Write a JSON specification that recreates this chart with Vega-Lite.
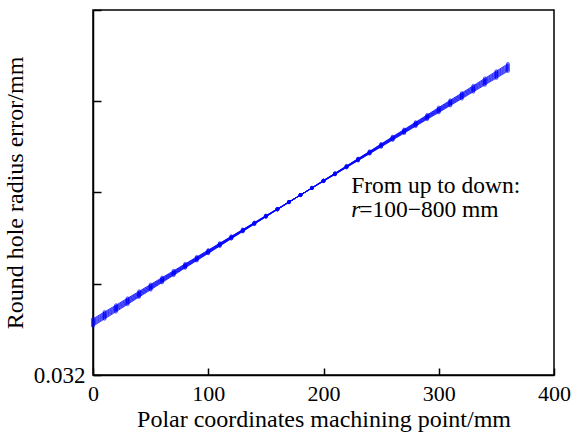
{
  "$schema": "https://vega.github.io/schema/vega-lite/v6.json",
  "width": 461,
  "height": 365,
  "autosize": {"type": "none"},
  "padding": {"left": 93, "top": 10, "right": 17, "bottom": 59},
  "background": "white",
  "config": {
    "view": {"stroke": "black", "strokeWidth": 1.5},
    "font": "'Liberation Serif', 'Times New Roman', serif",
    "axis": {
      "domainColor": "black", "domainWidth": 1.5,
      "tickColor": "black", "tickWidth": 1.5,
      "grid": false,
      "labelFont": "'Liberation Serif', 'Times New Roman', serif", "titleFont": "'Liberation Serif', 'Times New Roman', serif",
      "labelColor": "black", "titleColor": "black",
      "titleFontWeight": "normal",
      "labelFontSize": 22, "titleFontSize": 24,
      "labelFlush": false
    }
  },
  "datasets": {
    "lines": [
      {"x": 0, "r100": 0.032535, "r200": 0.032546, "r300": 0.032558, "r400": 0.032569, "r500": 0.032581, "r600": 0.032592, "r700": 0.032604, "r800": 0.032615},
      {"x": 10, "r100": 0.032615, "r200": 0.032626, "r300": 0.032637, "r400": 0.032648, "r500": 0.032658, "r600": 0.032669, "r700": 0.032680, "r800": 0.032691},
      {"x": 20, "r100": 0.032694, "r200": 0.032705, "r300": 0.032715, "r400": 0.032725, "r500": 0.032735, "r600": 0.032745, "r700": 0.032755, "r800": 0.032766},
      {"x": 30, "r100": 0.032775, "r200": 0.032784, "r300": 0.032794, "r400": 0.032803, "r500": 0.032813, "r600": 0.032822, "r700": 0.032832, "r800": 0.032841},
      {"x": 40, "r100": 0.032855, "r200": 0.032864, "r300": 0.032873, "r400": 0.032882, "r500": 0.032890, "r600": 0.032899, "r700": 0.032908, "r800": 0.032917},
      {"x": 50, "r100": 0.032934, "r200": 0.032942, "r300": 0.032951, "r400": 0.032959, "r500": 0.032967, "r600": 0.032975, "r700": 0.032984, "r800": 0.032992},
      {"x": 60, "r100": 0.033014, "r200": 0.033022, "r300": 0.033030, "r400": 0.033037, "r500": 0.033045, "r600": 0.033052, "r700": 0.033060, "r800": 0.033068},
      {"x": 70, "r100": 0.033094, "r200": 0.033101, "r300": 0.033108, "r400": 0.033115, "r500": 0.033121, "r600": 0.033128, "r700": 0.033135, "r800": 0.033142},
      {"x": 80, "r100": 0.033174, "r200": 0.033180, "r300": 0.033186, "r400": 0.033193, "r500": 0.033199, "r600": 0.033206, "r700": 0.033212, "r800": 0.033218},
      {"x": 90, "r100": 0.033254, "r200": 0.033260, "r300": 0.033265, "r400": 0.033271, "r500": 0.033277, "r600": 0.033283, "r700": 0.033288, "r800": 0.033294},
      {"x": 100, "r100": 0.033333, "r200": 0.033338, "r300": 0.033343, "r400": 0.033348, "r500": 0.033354, "r600": 0.033359, "r700": 0.033364, "r800": 0.033369},
      {"x": 110, "r100": 0.033413, "r200": 0.033418, "r300": 0.033422, "r400": 0.033427, "r500": 0.033431, "r600": 0.033436, "r700": 0.033440, "r800": 0.033445},
      {"x": 120, "r100": 0.033494, "r200": 0.033497, "r300": 0.033501, "r400": 0.033505, "r500": 0.033509, "r600": 0.033513, "r700": 0.033517, "r800": 0.033520},
      {"x": 130, "r100": 0.033573, "r200": 0.033576, "r300": 0.033579, "r400": 0.033582, "r500": 0.033586, "r600": 0.033589, "r700": 0.033592, "r800": 0.033595},
      {"x": 140, "r100": 0.033653, "r200": 0.033656, "r300": 0.033658, "r400": 0.033661, "r500": 0.033663, "r600": 0.033666, "r700": 0.033668, "r800": 0.033671},
      {"x": 150, "r100": 0.033733, "r200": 0.033735, "r300": 0.033737, "r400": 0.033739, "r500": 0.033741, "r600": 0.033743, "r700": 0.033745, "r800": 0.033747},
      {"x": 160, "r100": 0.033813, "r200": 0.033814, "r300": 0.033815, "r400": 0.033816, "r500": 0.033818, "r600": 0.033819, "r700": 0.033820, "r800": 0.033821},
      {"x": 170, "r100": 0.033893, "r200": 0.033893, "r300": 0.033894, "r400": 0.033895, "r500": 0.033895, "r600": 0.033896, "r700": 0.033897, "r800": 0.033897},
      {"x": 180, "r100": 0.033972, "r200": 0.033972, "r300": 0.033972, "r400": 0.033972, "r500": 0.033972, "r600": 0.033972, "r700": 0.033972, "r800": 0.033972},
      {"x": 190, "r100": 0.034052, "r200": 0.034052, "r300": 0.034051, "r400": 0.034050, "r500": 0.034050, "r600": 0.034049, "r700": 0.034048, "r800": 0.034048},
      {"x": 200, "r100": 0.034132, "r200": 0.034131, "r300": 0.034130, "r400": 0.034129, "r500": 0.034127, "r600": 0.034126, "r700": 0.034125, "r800": 0.034124},
      {"x": 210, "r100": 0.034212, "r200": 0.034210, "r300": 0.034208, "r400": 0.034206, "r500": 0.034204, "r600": 0.034202, "r700": 0.034200, "r800": 0.034198},
      {"x": 220, "r100": 0.034292, "r200": 0.034289, "r300": 0.034287, "r400": 0.034284, "r500": 0.034282, "r600": 0.034279, "r700": 0.034277, "r800": 0.034274},
      {"x": 230, "r100": 0.034372, "r200": 0.034369, "r300": 0.034366, "r400": 0.034363, "r500": 0.034359, "r600": 0.034356, "r700": 0.034353, "r800": 0.034350},
      {"x": 240, "r100": 0.034451, "r200": 0.034448, "r300": 0.034444, "r400": 0.034440, "r500": 0.034436, "r600": 0.034432, "r700": 0.034428, "r800": 0.034425},
      {"x": 250, "r100": 0.034532, "r200": 0.034527, "r300": 0.034523, "r400": 0.034518, "r500": 0.034514, "r600": 0.034509, "r700": 0.034505, "r800": 0.034500},
      {"x": 260, "r100": 0.034612, "r200": 0.034607, "r300": 0.034602, "r400": 0.034597, "r500": 0.034591, "r600": 0.034586, "r700": 0.034581, "r800": 0.034576},
      {"x": 270, "r100": 0.034691, "r200": 0.034685, "r300": 0.034680, "r400": 0.034674, "r500": 0.034668, "r600": 0.034662, "r700": 0.034657, "r800": 0.034651},
      {"x": 280, "r100": 0.034771, "r200": 0.034765, "r300": 0.034759, "r400": 0.034752, "r500": 0.034746, "r600": 0.034739, "r700": 0.034733, "r800": 0.034727},
      {"x": 290, "r100": 0.034851, "r200": 0.034844, "r300": 0.034837, "r400": 0.034830, "r500": 0.034824, "r600": 0.034817, "r700": 0.034810, "r800": 0.034803},
      {"x": 300, "r100": 0.034931, "r200": 0.034923, "r300": 0.034915, "r400": 0.034908, "r500": 0.034900, "r600": 0.034893, "r700": 0.034885, "r800": 0.034877},
      {"x": 310, "r100": 0.035011, "r200": 0.035003, "r300": 0.034994, "r400": 0.034986, "r500": 0.034978, "r600": 0.034970, "r700": 0.034961, "r800": 0.034953},
      {"x": 320, "r100": 0.035090, "r200": 0.035081, "r300": 0.035072, "r400": 0.035063, "r500": 0.035055, "r600": 0.035046, "r700": 0.035037, "r800": 0.035028},
      {"x": 330, "r100": 0.035170, "r200": 0.035161, "r300": 0.035151, "r400": 0.035142, "r500": 0.035132, "r600": 0.035123, "r700": 0.035113, "r800": 0.035104},
      {"x": 340, "r100": 0.035251, "r200": 0.035240, "r300": 0.035230, "r400": 0.035220, "r500": 0.035210, "r600": 0.035200, "r700": 0.035190, "r800": 0.035179},
      {"x": 350, "r100": 0.035330, "r200": 0.035319, "r300": 0.035308, "r400": 0.035297, "r500": 0.035287, "r600": 0.035276, "r700": 0.035265, "r800": 0.035254},
      {"x": 360, "r100": 0.035410, "r200": 0.035399, "r300": 0.035387, "r400": 0.035376, "r500": 0.035364, "r600": 0.035353, "r700": 0.035341, "r800": 0.035330}
    ],
    "note": [{"line1": "From up to down:", "rsym": "r", "rest": "=100−800 mm"}]
  },
  "layer": [
    {
      "data": {"name": "lines"},
      "transform": [{"fold": ["r100", "r200", "r300", "r400", "r500", "r600", "r700", "r800"], "as": ["series", "y"]}],
      "mark": {"type": "line", "color": "#0000ff", "strokeWidth": 0.8},
      "encoding": {
        "x": {
          "field": "x", "type": "quantitative",
          "scale": {"domain": [0, 400], "nice": false, "zero": false},
          "axis": {"values": [0, 100, 200, 300, 400], "tickSize": -7, "labelPadding": 15, "titlePadding": 3, "title": "Polar coordinates machining point/mm"}
        },
        "y": {
          "field": "y", "type": "quantitative",
          "scale": {"domain": [0.032, 0.036], "nice": false, "zero": false},
          "axis": {"values": [0.032, 0.033, 0.034, 0.035, 0.036], "tickSize": -8, "labelPadding": 16, "labelFontSize": 23, "titlePadding": 6, "labelExpr": "datum.value == 0.032 ? '0.032' : ''", "title": "Round hole radius error/mm"}
        },
        "detail": {"field": "series"}
      }
    },
    {
      "data": {"name": "lines"},
      "transform": [{"fold": ["r100", "r200", "r300", "r400", "r500", "r600", "r700", "r800"], "as": ["series", "y"]}],
      "mark": {"type": "point", "shape": "circle", "filled": false, "color": "#0000ff", "size": 9, "strokeWidth": 0.5, "opacity": 1},
      "encoding": {
        "x": {"field": "x", "type": "quantitative"},
        "y": {"field": "y", "type": "quantitative"},
        "detail": {"field": "series"}
      }
    },
    {
      "data": {"name": "note"},
      "mark": {"type": "text", "align": "left", "baseline": "alphabetic", "font": "'Liberation Serif', 'Times New Roman', serif", "fontSize": 23.5, "color": "black"},
      "encoding": {
        "x": {"datum": 224, "type": "quantitative"},
        "y": {"datum": 0.033995, "type": "quantitative"},
        "text": {"field": "line1"}
      }
    },
    {
      "data": {"name": "note"},
      "mark": {"type": "text", "align": "left", "baseline": "alphabetic", "font": "'Liberation Serif', 'Times New Roman', serif", "fontSize": 23.5, "fontStyle": "italic", "color": "black"},
      "encoding": {
        "x": {"datum": 224, "type": "quantitative"},
        "y": {"datum": 0.03373, "type": "quantitative"},
        "text": {"field": "rsym"}
      }
    },
    {
      "data": {"name": "note"},
      "mark": {"type": "text", "align": "left", "baseline": "alphabetic", "font": "'Liberation Serif', 'Times New Roman', serif", "fontSize": 23.5, "dx": 8, "color": "black"},
      "encoding": {
        "x": {"datum": 224, "type": "quantitative"},
        "y": {"datum": 0.03373, "type": "quantitative"},
        "text": {"field": "rest"}
      }
    }
  ]
}
